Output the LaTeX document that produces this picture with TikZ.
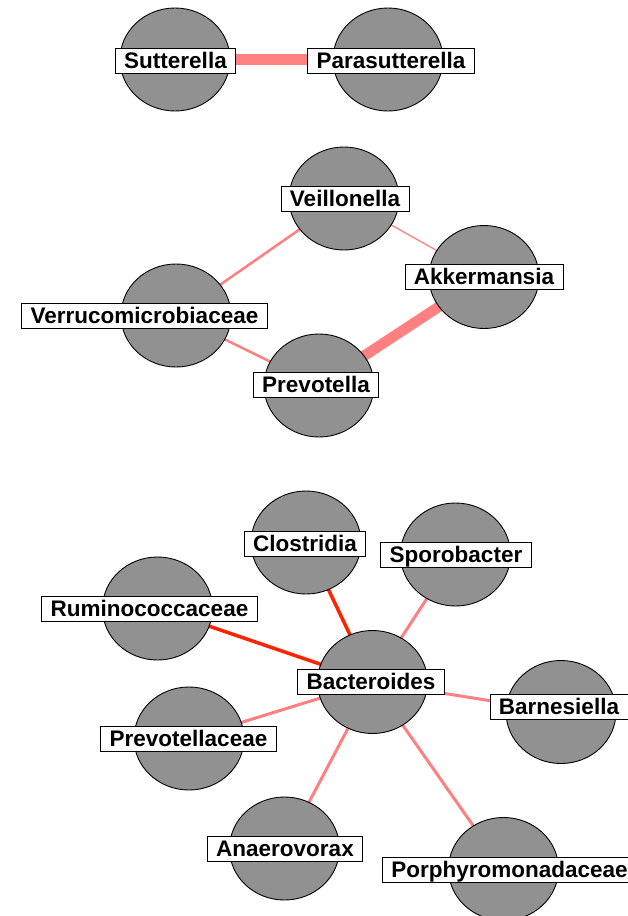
\documentclass[tikz,border=0pt]{standalone}
\usepackage{fontspec}
\setmainfont{Liberation Sans}
\usetikzlibrary{backgrounds,shapes.geometric}

\definecolor{nodegray}{RGB}{145,145,145}
\definecolor{weaklink}{RGB}{255,128,128}
\definecolor{stronglink}{RGB}{255,36,0}

\tikzset{
  taxon/.style={ellipse, draw=black, line width=0.9pt, fill=nodegray,
    minimum width=110pt, minimum height=103pt, inner sep=0pt},
  tag/.style={draw=black, line width=0.9pt, fill=white, inner xsep=9pt,
    inner ysep=2.5pt, text height=17.5pt, text depth=2.5pt,
    font=\fontsize{22.5}{22.5}\selectfont\bfseries},
  link/.style={draw=weaklink, line width=3pt},
  redlink/.style={draw=stronglink, line width=3.5pt},
  thinlink/.style={draw=weaklink, line width=1.3pt},
  midlink/.style={draw=weaklink, line width=2.5pt},
  boldlink/.style={draw=weaklink, line width=10.5pt},
}

\begin{document}
\begin{tikzpicture}[x=1pt,y=-1pt]
\useasboundingbox (0,0) rectangle (628,916);
\clip (0,0) rectangle (628,916);

% ---- pair ----
\node[taxon] (sut) at (175,59.5) {};
\node[taxon] (para) at (388,59.5) {};

% ---- four-node cycle ----
\node[taxon] (veil) at (344,198.5) {};
\node[taxon] (akk) at (484,277) {};
\node[taxon] (verr) at (176,315.5) {};
\node[taxon] (prev) at (319,385.5) {};

% ---- star around Bacteroides ----
\node[taxon] (bact) at (372.5,682) {};
\node[taxon] (clos) at (306,542.5) {};
\node[taxon] (spor) at (455.5,554.5) {};
\node[taxon] (rumi) at (157.5,608.5) {};
\node[taxon] (barn) at (561,712) {};
\node[taxon] (prvc) at (189,738.5) {};
\node[taxon] (anae) at (284.5,848.5) {};
\node[taxon] (porp) at (503.5,869) {};

% white page and links, all behind the circles
\begin{scope}[on background layer]
  \fill[white] (0,0) rectangle (628,916);

  \draw[boldlink] (sut.center) -- (para.center);

  \draw[thinlink] (veil.center) -- (akk.center);
  \draw[midlink] (veil.center) -- (verr.center);
  \draw[midlink] (verr.center) -- (prev.center);
  \draw[boldlink] (akk.center) -- (prev.center);

  \draw[redlink] (bact.center) -- (clos.center);
  \draw[redlink] (bact.center) -- (rumi.center);
  \draw[link] (bact.center) -- (spor.center);
  \draw[link] (bact.center) -- (barn.center);
  \draw[link] (bact.center) -- (prvc.center);
  \draw[link] (bact.center) -- (anae.center);
  \draw[link] (bact.center) -- (porp.center);
\end{scope}

% labels
\node[tag] (sut-t) at (175.5,60.5) {Sutterella};
\node[tag] (para-t) at (391,60.5) {Parasutterella};

\node[tag] (veil-t) at (345,198.5) {Veillonella};
\node[tag] (akk-t) at (484,277) {Akkermansia};
\node[tag] (verr-t) at (144.5,315.5) {Verrucomicrobiaceae};
\node[tag] (prev-t) at (316,384.5) {Prevotella};

\node[tag] (bact-t) at (371,681.5) {Bacteroides};
\node[tag] (clos-t) at (305,544) {Clostridia};
\node[tag] (spor-t) at (456,554.5) {Sporobacter};
\node[tag] (rumi-t) at (149.5,608.5) {Ruminococcaceae};
\node[tag] (barn-t) at (559,707) {Barnesiella};
\node[tag] (prvc-t) at (188.5,738.5) {Prevotellaceae};
\node[tag] (anae-t) at (285,848.5) {Anaerovorax};
\node[tag] (porp-t) at (509.5,869.5) {Porphyromonadaceae};
\end{tikzpicture}
\end{document}
